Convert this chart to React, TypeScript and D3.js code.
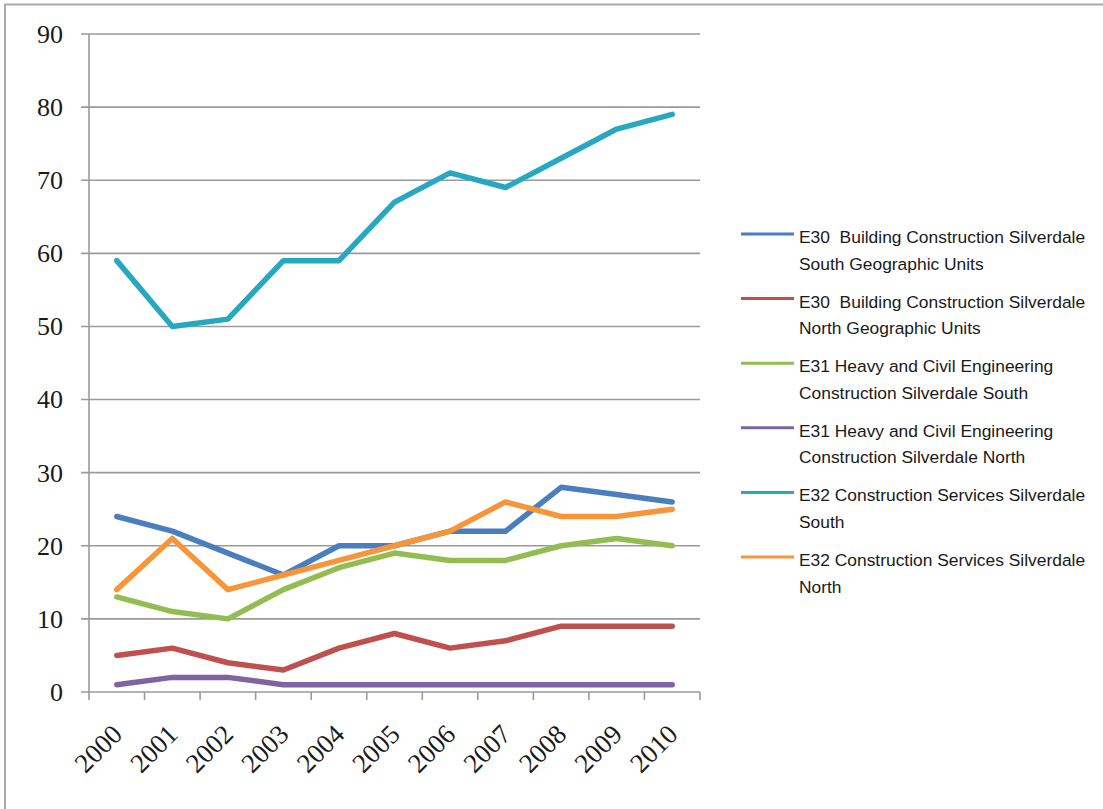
import React from "react";
import * as d3 from "d3";

const years = ["2000", "2001", "2002", "2003", "2004", "2005", "2006", "2007", "2008", "2009", "2010"];
const yTicks = [0, 10, 20, 30, 40, 50, 60, 70, 80, 90];

const e30South = [24, 22, 19, 16, 20, 20, 22, 22, 28, 27, 26];
const e30North = [5, 6, 4, 3, 6, 8, 6, 7, 9, 9, 9];
const e31South = [13, 11, 10, 14, 17, 19, 18, 18, 20, 21, 20];
const e31North = [1, 2, 2, 1, 1, 1, 1, 1, 1, 1, 1];
const e32South = [59, 50, 51, 59, 59, 67, 71, 69, 73, 77, 79];
const e32North = [14, 21, 14, 16, 18, 20, 22, 26, 24, 24, 25];

const seriesNames = [
  ["E30  Building Construction Silverdale", "South Geographic Units"],
  ["E30  Building Construction Silverdale", "North Geographic Units"],
  ["E31 Heavy and Civil Engineering", "Construction Silverdale South"],
  ["E31 Heavy and Civil Engineering", "Construction Silverdale North"],
  ["E32 Construction Services Silverdale", "South"],
  ["E32 Construction Services Silverdale", "North"],
];
const seriesColors = ["#4a7ebe", "#c0504d", "#93bd50", "#8064a2", "#27a8c1", "#f7953a"];
const seriesValues = [e30South, e30North, e31South, e31North, e32South, e32North];
// drawing order (teal on top of others as in reference)
const drawOrder = [3, 1, 2, 0, 5, 4];

export default function App() {
  const W = 1103;
  const H = 809;
  const plotLeft = 89;
  const plotRight = 700;
  const plotTop = 34;
  const plotBottom = 692;

  const x = d3.scaleBand<string>().domain(years).range([plotLeft, plotRight]).padding(0);
  const y = d3.scaleLinear().domain([0, 90]).range([plotBottom, plotTop]);
  const cx = (yr: string) => (x(yr) as number) + x.bandwidth() / 2;

  const line = d3
    .line<number>()
    .x((_, i) => cx(years[i]))
    .y((d) => y(d));

  const bounds = years.map((yr) => x(yr) as number).concat([plotRight]);

  const legendX = 741;
  const legendY0 = 234;
  const legendStep = 64.6;

  return (
    <svg
      width={W}
      height={H}
      style={{ position: "absolute", left: 0, top: 0, background: "#fff" }}
      xmlns="http://www.w3.org/2000/svg"
    >
      <rect x={0} y={0} width={W} height={H} fill="#fff" />
      {/* outer frame */}
      <rect x={5} y={4.5} width={W + 10} height={H + 10} fill="none" stroke="#a9a9a9" strokeWidth={2} />

      {/* gridlines */}
      {yTicks.map((t) => (
        <line
          key={"g" + t}
          x1={plotLeft - 8}
          x2={plotRight}
          y1={y(t)}
          y2={y(t)}
          stroke="#9a9a9a"
          strokeWidth={1.6}
        />
      ))}
      {/* y axis */}
      <line x1={plotLeft} x2={plotLeft} y1={plotTop} y2={plotBottom} stroke="#9a9a9a" strokeWidth={1.6} />
      {/* x ticks */}
      {bounds.map((b, i) => (
        <line key={"xt" + i} x1={b} x2={b} y1={plotBottom} y2={plotBottom + 8} stroke="#9a9a9a" strokeWidth={1.6} />
      ))}

      {/* y labels */}
      {yTicks.map((t) => (
        <text
          key={"yl" + t}
          x={63}
          y={y(t)}
          dy="0.34em"
          textAnchor="end"
          fontFamily="'Liberation Serif', serif"
          fontSize={26}
          fill="#1a1a1a"
        >
          {t}
        </text>
      ))}

      {/* x labels */}
      {years.map((yr) => (
        <text
          key={"xl" + yr}
          transform={`translate(${cx(yr) + 7},${736}) rotate(-45)`}
          textAnchor="end"
          fontFamily="'Liberation Serif', serif"
          fontSize={27}
          fill="#1a1a1a"
        >
          {yr}
        </text>
      ))}

      {/* series lines */}
      {drawOrder.map((si) => (
        <path
          key={"s" + si}
          d={line(seriesValues[si]) as string}
          fill="none"
          stroke={seriesColors[si]}
          strokeWidth={5.5}
          strokeLinejoin="round"
          strokeLinecap="round"
        />
      ))}

      {/* legend */}
      {seriesNames.map((lines, i) => {
        const ly = legendY0 + i * legendStep;
        return (
          <g key={"lg" + i}>
            <line x1={legendX} x2={legendX + 53} y1={ly} y2={ly} stroke={seriesColors[i]} strokeWidth={3} />
            {lines.map((ln, j) => (
              <text
                key={j}
                x={799}
                y={ly + 9 + j * 26.5}
                fontFamily="'Liberation Sans', Arial, sans-serif"
                fontSize={17.4}
                fill="#1a1a1a"
                style={{ whiteSpace: "pre" }}
              >
                {ln}
              </text>
            ))}
          </g>
        );
      })}
    </svg>
  );
}
